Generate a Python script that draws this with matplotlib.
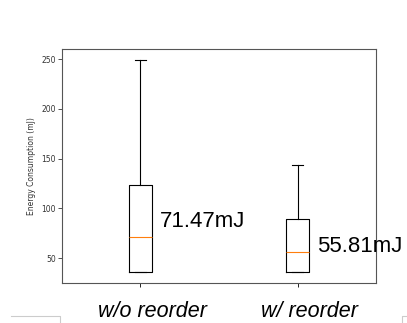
import matplotlib.pyplot as plt
from matplotlib.lines import Line2D
from matplotlib.transforms import ScaledTranslation

labels = ['w/o reorder', 'w/ reorder']
whislo = [36, 36]
q1 = [36, 36]
med = [71.47, 55.81]
q3 = [123, 89]
whishi = [249, 144]
ann = ['71.47mJ', '55.81mJ']
ann_y = [87, 62]

fig = plt.figure(figsize=(4.07, 3.23), dpi=100)
ax = fig.add_axes([0.152, 0.124, 0.772, 0.724])

stats = []
for i in range(2):
    stats.append(dict(whislo=whislo[i], q1=q1[i], med=med[i], q3=q3[i],
                      whishi=whishi[i], fliers=[], label=labels[i]))
ax.bxp(stats, positions=[1, 2], widths=0.15,
       boxprops=dict(color='black', linewidth=0.8),
       whiskerprops=dict(color='black', linewidth=0.8),
       capprops=dict(color='black', linewidth=0.8),
       medianprops=dict(color='#ff7f0e', linewidth=0.8))

for i in range(2):
    ax.text(i + 1 + 0.125, ann_y[i], ann[i], fontsize=16,
            family='Liberation Sans', va='center', ha='left')

ax.set_xlim(0.5, 2.5)
ax.set_ylim(25, 260)
ax.set_yticks([50, 100, 150, 200, 250])
ax.tick_params(axis='y', labelsize=5.5, length=3, width=0.6, pad=1.5, colors='#333')
ax.tick_params(axis='x', length=3, width=0.6, pad=10)
# labels were placed a bit right of the ticks in the original
shift = ScaledTranslation(12 / 100, 0, fig.dpi_scale_trans)
for lab in ax.get_xticklabels():
    lab.set_fontsize(15.5)
    lab.set_family('Liberation Sans')
    lab.set_style('italic')
    lab.set_transform(lab.get_transform() + shift)
ax.set_ylabel('Energy Consumption (mJ)', fontsize=5.5, color='#333')
for s in ax.spines.values():
    s.set_linewidth(0.8)
    s.set_color('#555')

# page border fragments at the bottom
def px(x, y):
    return x / 407, 1 - y / 323
for xs, ys in [([11, 60, 60], [316, 316, 323]), ([402, 402, 407], [323, 316, 316])]:
    pts = [px(a, b) for a, b in zip(xs, ys)]
    fig.add_artist(Line2D([p[0] for p in pts], [p[1] for p in pts],
                          color='#cccccc', linewidth=0.8))

fig.savefig('out.png', dpi=100)
